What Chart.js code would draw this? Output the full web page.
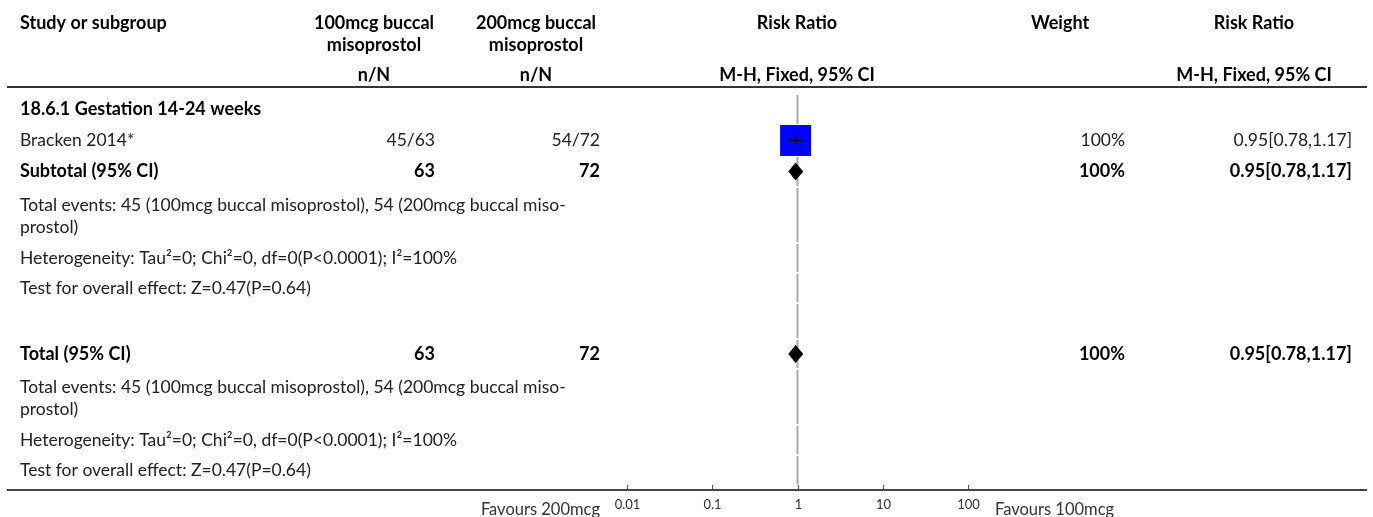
<!DOCTYPE html>
<html>
<head>
<meta charset="utf-8">
<script src="https://cdn.jsdelivr.net/npm/chart.js@4.4.1/dist/chart.umd.min.js"></script>
<style>
  html, body { margin: 0; padding: 0; background: #fff; }
  canvas { display: block; }
</style>
</head>
<body>
<canvas id="forestPlot" width="1373" height="517"></canvas>
<script>
// single study in the subgroup
const groupTitle = '18.6.1 Gestation 14-24 weeks';
const studyNames = ['Bracken 2014*'];
const events100 = [45];
const total100 = [63];
const events200 = [54];
const total200 = [72];
const studyRR = [0.95];
const studyLow = [0.78];
const studyHigh = [1.17];
const studyWeight = [100];

// pooled rows: subtotal, then overall total
const pooledNames = ['Subtotal (95% CI)', 'Total (95% CI)'];
const pooledTotal100 = [63, 63];
const pooledTotal200 = [72, 72];
const pooledRR = [0.95, 0.95];
const pooledLow = [0.78, 0.78];
const pooledHigh = [1.17, 1.17];
const pooledWeight = [100, 100];

const eventsLines = [
  'Total events: 45 (100mcg buccal misoprostol), 54 (200mcg buccal miso-',
  'prostol)'
];
const hetText = 'Heterogeneity: Tau\u00b2=0; Chi\u00b2=0, df=0(P<0.0001); I\u00b2=100%';
const effectText = 'Test for overall effect: Z=0.47(P=0.64)';

const xTicks = [0.01, 0.1, 1, 10, 100];
const xTickLabels = ['0.01', '0.1', '1', '10', '100'];
const favoursLeft = 'Favours 200mcg';
const favoursRight = 'Favours 100mcg';

const FONT = 'Lato, "Open Sans", sans-serif';
const TXT = 17.5;
const TXT_BOLD = 18;

function rrText(r, lo, hi) {
  return r.toFixed(2) + '[' + lo.toFixed(2) + ',' + hi.toFixed(2) + ']';
}

// table rows, top to bottom; heights are in pixels below the header rule
const rows = [
  { kind: 'group', h: 31 },
  { kind: 'study', i: 0, h: 31 },
  { kind: 'pooled', i: 0, h: 31 },
  { kind: 'note', lines: eventsLines, h: 56 },
  { kind: 'note', lines: [hetText], h: 30 },
  { kind: 'note', lines: [effectText], h: 30 },
  { kind: 'gap', h: 36 },
  { kind: 'pooled', i: 1, h: 30 },
  { kind: 'note', lines: eventsLines, h: 56 },
  { kind: 'note', lines: [hetText], h: 30 },
  { kind: 'note', lines: [effectText], h: 30 }
];
let acc = 7;
rows.forEach(r => { r.top = acc; r.mid = acc + r.h / 2; acc += r.h; });
const tableHeight = acc + 5;

const studyY = studyNames.map((_, i) => rows.find(r => r.kind === 'study' && r.i === i).mid);
const pooledY = pooledNames.map((_, i) => rows.find(r => r.kind === 'pooled' && r.i === i).mid);

// column anchors
const COL = {
  study: 20,
  c1Mid: 374, c1Right: 435,
  c2Mid: 536, c2Right: 600,
  plotMid: 797,
  wMid: 1060, wRight: 1125,
  rrMid: 1254, rrRight: 1352,
  ruleLeft: 7, ruleRight: 1367
};

function text(ctx, s, x, y, align, bold, size, color) {
  ctx.font = (bold ? 'bold ' : '') + (size || (bold ? TXT_BOLD : TXT)) + 'px ' + FONT;
  ctx.fillStyle = color || (bold ? '#000' : '#222');
  ctx.textAlign = align;
  ctx.textBaseline = 'middle';
  ctx.fillText(s, x, y);
}

const forestTable = {
  id: 'forestTable',
  beforeDatasetsDraw(chart) {
    // line of no effect, broken between rows
    const { ctx, scales: { x, y } } = chart;
    const x1 = x.getPixelForValue(1);
    ctx.save();
    ctx.strokeStyle = '#a8a8a8';
    ctx.lineWidth = 2;
    rows.forEach(r => {
      ctx.beginPath();
      ctx.moveTo(x1, y.getPixelForValue(r.top) + 1);
      ctx.lineTo(x1, y.getPixelForValue(r.top + r.h) - 1);
      ctx.stroke();
    });
    ctx.restore();
  },
  afterDatasetsDraw(chart) {
    // pooled diamonds span the confidence interval
    const { ctx, scales: { x, y } } = chart;
    ctx.save();
    ctx.fillStyle = '#000';
    pooledRR.forEach((r, i) => {
      const py = y.getPixelForValue(pooledY[i]);
      ctx.beginPath();
      ctx.moveTo(x.getPixelForValue(pooledLow[i]), py);
      ctx.lineTo(x.getPixelForValue(r), py - 9);
      ctx.lineTo(x.getPixelForValue(pooledHigh[i]), py);
      ctx.lineTo(x.getPixelForValue(r), py + 9);
      ctx.closePath();
      ctx.fill();
    });
    ctx.restore();
  },
  afterDraw(chart) {
    const { ctx, chartArea, scales: { x, y } } = chart;
    ctx.save();

    // header
    text(ctx, 'Study or subgroup', COL.study, 23, 'left', true);
    text(ctx, '100mcg buccal', COL.c1Mid, 23, 'center', true);
    text(ctx, 'misoprostol', COL.c1Mid, 45, 'center', true);
    text(ctx, 'n/N', COL.c1Mid, 75, 'center', true);
    text(ctx, '200mcg buccal', COL.c2Mid, 23, 'center', true);
    text(ctx, 'misoprostol', COL.c2Mid, 45, 'center', true);
    text(ctx, 'n/N', COL.c2Mid, 75, 'center', true);
    text(ctx, 'Risk Ratio', COL.plotMid, 23, 'center', true);
    text(ctx, 'M-H, Fixed, 95% CI', COL.plotMid, 75, 'center', true);
    text(ctx, 'Weight', COL.wMid, 23, 'center', true);
    text(ctx, 'Risk Ratio', COL.rrMid, 23, 'center', true);
    text(ctx, 'M-H, Fixed, 95% CI', COL.rrMid, 75, 'center', true);

    ctx.strokeStyle = '#333';
    ctx.lineWidth = 2;
    ctx.beginPath();
    ctx.moveTo(COL.ruleLeft, chartArea.top);
    ctx.lineTo(COL.ruleRight, chartArea.top);
    ctx.stroke();

    // body rows
    rows.forEach(r => {
      const py = y.getPixelForValue(r.mid);
      if (r.kind === 'group') {
        text(ctx, groupTitle, COL.study, py, 'left', true);
      } else if (r.kind === 'study') {
        const i = r.i;
        text(ctx, studyNames[i], COL.study, py, 'left', false);
        text(ctx, events100[i] + '/' + total100[i], COL.c1Right, py, 'right', false);
        text(ctx, events200[i] + '/' + total200[i], COL.c2Right, py, 'right', false);
        text(ctx, studyWeight[i] + '%', COL.wRight, py, 'right', false);
        text(ctx, rrText(studyRR[i], studyLow[i], studyHigh[i]), COL.rrRight, py, 'right', false);
      } else if (r.kind === 'pooled') {
        const i = r.i;
        text(ctx, pooledNames[i], COL.study, py, 'left', true);
        text(ctx, String(pooledTotal100[i]), COL.c1Right, py, 'right', true);
        text(ctx, String(pooledTotal200[i]), COL.c2Right, py, 'right', true);
        text(ctx, pooledWeight[i] + '%', COL.wRight, py, 'right', true);
        text(ctx, rrText(pooledRR[i], pooledLow[i], pooledHigh[i]), COL.rrRight, py, 'right', true);
      } else if (r.kind === 'note') {
        const first = r.lines.length > 1 ? y.getPixelForValue(r.top + 18) : py;
        r.lines.forEach((s, k) => text(ctx, s, COL.study, first + k * 22, 'left', false));
      }
    });

    // bottom rule doubling as the x axis
    const base = chartArea.bottom;
    ctx.strokeStyle = '#444';
    ctx.lineWidth = 2;
    ctx.beginPath();
    ctx.moveTo(COL.ruleLeft, base);
    ctx.lineTo(COL.ruleRight, base);
    ctx.stroke();

    ctx.lineWidth = 1;
    ctx.strokeStyle = '#555';
    xTicks.forEach((v, k) => {
      const px = Math.round(x.getPixelForValue(v)) + 0.5;
      ctx.beginPath();
      ctx.moveTo(px, base);
      ctx.lineTo(px, base - 5);
      ctx.stroke();
      text(ctx, xTickLabels[k], px, base + 15, 'center', false, 13, '#333');
    });
    text(ctx, favoursLeft, x.getPixelForValue(0.01) - 27, base + 20, 'right', false, 16.5, '#333');
    text(ctx, favoursRight, x.getPixelForValue(100) + 27, base + 20, 'left', false, 16.5, '#333');

    ctx.restore();
  }
};

const ciSets = studyNames.map((_, i) => ({
  data: [{ x: studyLow[i], y: studyY[i] }, { x: studyHigh[i], y: studyY[i] }],
  showLine: true,
  borderColor: '#000',
  borderWidth: 1.5,
  pointRadius: 0,
  order: 1
}));

new Chart(document.getElementById('forestPlot'), {
  type: 'scatter',
  data: {
    datasets: [
      ...ciSets,
      {
        // point estimate tick
        data: studyRR.map((r, i) => ({ x: r, y: studyY[i] })),
        pointStyle: 'line',
        rotation: 90,
        pointRadius: 4.5,
        borderColor: '#000',
        borderWidth: 1.5,
        order: 0
      },
      {
        // weight boxes, area proportional to weight
        data: studyRR.map((r, i) => ({ x: r, y: studyY[i] })),
        pointStyle: 'rect',
        pointRadius: studyWeight.map(w => 15.5 / Math.SQRT1_2 * Math.sqrt(w / 100)),
        backgroundColor: '#0000ff',
        borderWidth: 0,
        order: 2
      }
    ]
  },
  options: {
    responsive: false,
    devicePixelRatio: 1,
    animation: false,
    events: [],
    layout: { padding: { left: 627, right: 405, top: 87, bottom: 27 } },
    plugins: { legend: { display: false }, tooltip: { enabled: false } },
    scales: {
      x: { type: 'logarithmic', min: 0.01, max: 100, display: false },
      y: { type: 'linear', min: 0, max: tableHeight, reverse: true, display: false }
    }
  },
  plugins: [forestTable]
});
</script>
</body>
</html>
